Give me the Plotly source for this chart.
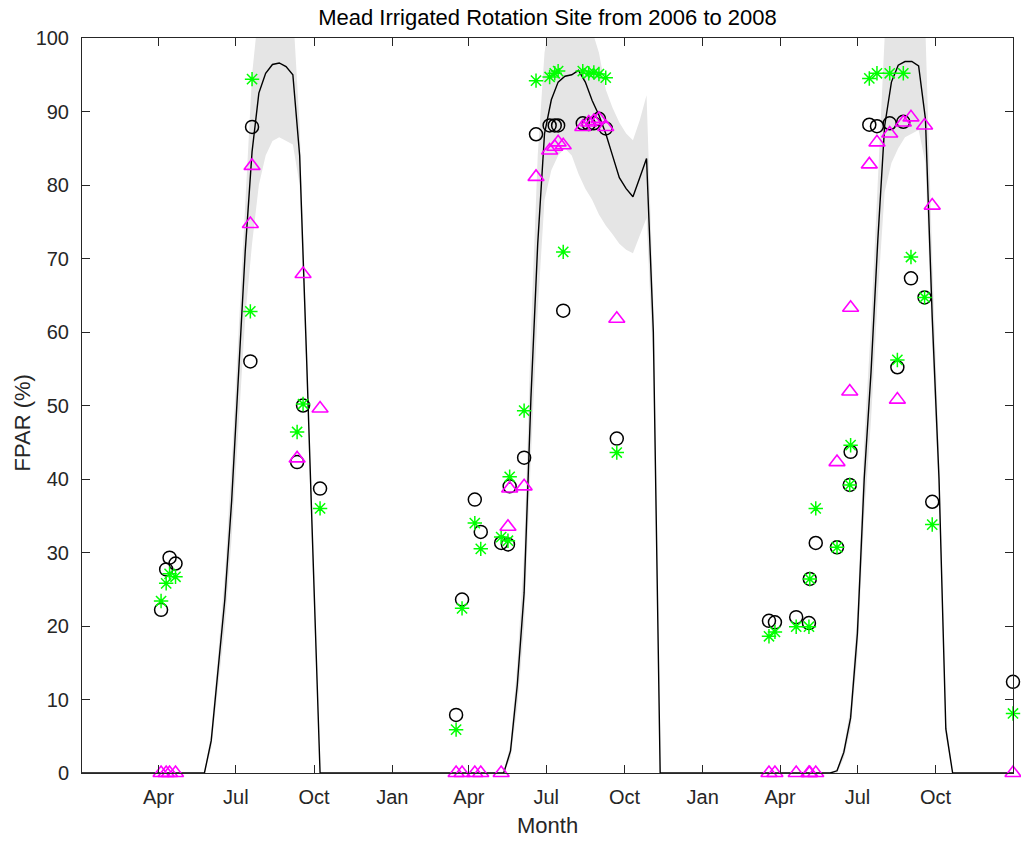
import plotly.graph_objects as go

# ---------------- data ----------------
# Modelled FPAR (8-day steps) for each growing season: mean line and band limits
dates_2006 = ["2006-05-25", "2006-06-02", "2006-06-10", "2006-06-18", "2006-06-26", "2006-07-04",
              "2006-07-12", "2006-07-20", "2006-07-28", "2006-08-05", "2006-08-13", "2006-08-21",
              "2006-08-29", "2006-09-06", "2006-09-14", "2006-09-22", "2006-09-30", "2006-10-08"]
line_2006 = [0, 4.4, 13.8, 23.6, 37, 54, 71, 84.5, 92.5, 95.2, 96.4, 96.6, 96.1, 95.0, 84, 57, 27, 0]
hi_2006 = [0, 5.5, 16, 27, 42, 60, 78, 95, 104, 107, 107, 107, 106, 104, 88, 60, 29, 0]
lo_2006 = [0, 3.3, 11.5, 20, 32, 47, 62, 72, 80, 84, 86, 86.5, 86, 85.5, 80, 54, 25, 0]

dates_2007 = ["2007-05-12", "2007-05-20", "2007-05-28", "2007-06-05", "2007-06-13", "2007-06-21",
              "2007-06-29", "2007-07-07", "2007-07-15", "2007-07-23", "2007-07-31", "2007-08-08",
              "2007-08-16", "2007-08-24", "2007-09-01", "2007-09-09", "2007-09-17", "2007-09-25",
              "2007-10-03", "2007-10-11", "2007-10-19", "2007-10-27", "2007-11-04", "2007-11-12"]
line_2007 = [0, 3, 12, 24.5, 51, 72, 87, 91.6, 94, 94.8, 95.0, 95.6, 94, 91.5, 89.5, 87, 84, 81,
             79.5, 78.4, 81, 83.6, 60, 0]
hi_2007 = [0, 4, 15, 30, 60, 84, 98, 104, 106, 106, 106, 106, 104, 101, 98, 93, 90.5, 88.5,
           87, 86.1, 88.8, 92.2, 64, 0]
lo_2007 = [0, 2, 9, 20, 43, 63, 78, 82, 84, 85, 84, 81.5, 79.5, 78, 76, 74.5, 73.3, 72,
           71.2, 70.7, 73, 75.5, 55, 0]

dates_2008 = ["2008-05-30", "2008-06-07", "2008-06-15", "2008-06-23", "2008-07-01", "2008-07-09",
              "2008-07-17", "2008-07-25", "2008-08-02", "2008-08-10", "2008-08-18", "2008-08-26",
              "2008-09-03", "2008-09-11", "2008-09-19", "2008-09-27", "2008-10-05", "2008-10-13",
              "2008-10-21"]
line_2008 = [0, 0.3, 2.8, 7.5, 19, 40, 54.5, 72.5, 88, 94, 96.3, 96.8, 96.8, 96.2, 89, 62, 40, 6, 0]
hi_2008 = [0, 0.5, 3.5, 9, 22, 45, 61, 80, 100, 104, 106, 106, 106, 104, 101, 70, 43, 7, 0]
lo_2008 = [0, 0, 2, 6, 16, 35, 48, 65, 79, 83, 85, 86.5, 87, 87.5, 83, 58, 37, 5, 0]

start_date = "2006-01-01"
end_date = "2008-12-31"

# Field observations
obs_dates = ["2006-04-04", "2006-04-10", "2006-04-14", "2006-04-21", "2006-07-18", "2006-07-20",
             "2006-09-11", "2006-09-18", "2006-10-08",
             "2007-03-17", "2007-03-24", "2007-04-08", "2007-04-15", "2007-05-09", "2007-05-17",
             "2007-05-19", "2007-06-05", "2007-06-19", "2007-07-05", "2007-07-11", "2007-07-15",
             "2007-07-21", "2007-08-13", "2007-08-20", "2007-08-26", "2007-09-01", "2007-09-09",
             "2007-09-22",
             "2008-03-19", "2008-03-26", "2008-04-20", "2008-05-05", "2008-05-06", "2008-05-13",
             "2008-06-07", "2008-06-22", "2008-06-23", "2008-07-15", "2008-07-24", "2008-08-08",
             "2008-08-17", "2008-08-24", "2008-09-02", "2008-09-18", "2008-09-27", "2008-12-31"]
obs_circle = [22.2, 27.7, 29.3, 28.5, 56.0, 87.9, 42.3, 50.0, 38.7,
              7.9, 23.6, 37.2, 32.8, 31.3, 31.1, 39.0, 42.9, 86.9, 88.1, 88.1, 88.1, 62.9,
              88.4, 88.3, 88.4, 89.0, 87.7, 45.5,
              20.7, 20.5, 21.2, 20.4, 26.4, 31.3, 30.7, 39.2, 43.7, 88.2, 88.0, 88.4, 55.2,
              88.6, 67.3, 64.7, 36.9, 12.4]
obs_star = [23.4, 25.8, 27.1, 26.7, 62.8, 94.4, 46.4, 50.2, 36.0,
            5.9, 22.4, 34.0, 30.5, 32.1, 31.6, 40.3, 49.3, 94.2, 94.7, 95.2, 95.5, 70.9,
            95.5, 95.2, 95.3, 95.1, 94.6, 43.6,
            18.6, 19.2, 19.9, 19.9, 26.4, 36.0, 30.7, 39.2, 44.6, 94.5, 95.2, 95.2, 56.2,
            95.2, 70.2, 64.7, 33.8, 8.1]
obs_triangle = [0, 0, 0, 0, 74.7, 82.6, 42.8, 67.9, 49.6,
                0, 0, 0, 0, 0, 33.5, 38.7, 39.0, 81.1, 84.7, 85.2, 85.8, 85.4,
                87.9, 88.5, 88.7, 89.0, 87.9, 61.8,
                0, 0, 0, 0, 0, 0, 42.3, 51.9, 63.3, 82.8, 85.8, 87.0, 50.8,
                88.5, 89.2, 88.1, 77.2, 0]

tick_dates = ["2006-04-01", "2006-07-01", "2006-10-01", "2007-01-01", "2007-04-01", "2007-07-01",
              "2007-10-01", "2008-01-01", "2008-04-01", "2008-07-01", "2008-10-01"]
tick_labels = ["Apr", "Jul", "Oct", "Jan", "Apr", "Jul", "Oct", "Jan", "Apr", "Jul", "Oct"]
y_ticks = [0, 10, 20, 30, 40, 50, 60, 70, 80, 90, 100]

# ---------------- figure ----------------
FONT = "Liberation Sans, Arial, Helvetica, sans-serif"
AX = "#262626"

fig = go.Figure()

for d, hi, lo in [(dates_2006, hi_2006, lo_2006),
                  (dates_2007, hi_2007, lo_2007),
                  (dates_2008, hi_2008, lo_2008)]:
    fig.add_trace(go.Scatter(
        x=d + d[::-1], y=hi + lo[::-1], mode="lines", fill="toself",
        fillcolor="#e5e5e5", line=dict(width=0, color="#e5e5e5"),
        hoverinfo="skip", showlegend=False))

fig.add_trace(go.Scatter(
    x=[start_date] + dates_2006 + dates_2007 + dates_2008 + [end_date],
    y=[0] + line_2006 + line_2007 + line_2008 + [0],
    mode="lines", line=dict(color="black", width=1.4), showlegend=False))

fig.add_trace(go.Scatter(
    x=obs_dates, y=obs_circle, mode="markers", cliponaxis=False, showlegend=False,
    marker=dict(symbol="circle-open", size=13, color="black",
                line=dict(color="black", width=1.5))))
fig.add_trace(go.Scatter(
    x=obs_dates, y=obs_star, mode="markers", cliponaxis=False, showlegend=False,
    marker=dict(symbol="asterisk-open", size=12, color="#00ff00",
                line=dict(color="#00ff00", width=1.5))))
fig.add_trace(go.Scatter(
    x=obs_dates, y=obs_triangle, mode="markers", cliponaxis=False, showlegend=False,
    marker=dict(symbol="triangle-up-open", size=14, color="#ff00ff",
                line=dict(color="#ff00ff", width=1.6))))

axis_common = dict(
    ticks="inside", ticklen=8, tickwidth=1, tickcolor=AX,
    showline=True, linecolor=AX, linewidth=1, mirror="ticks",
    showgrid=False, zeroline=False,
    tickfont=dict(family=FONT, size=20, color=AX),
)

fig.update_layout(
    width=1021, height=841,
    margin=dict(l=82, r=8, t=38, b=68),
    paper_bgcolor="white", plot_bgcolor="white",
    title=dict(text="Mead Irrigated Rotation Site from 2006 to 2008",
               x=0.5, xref="paper", xanchor="center",
               y=1 - 17 / 841, yref="container", yanchor="middle",
               font=dict(family=FONT, size=22, color="black")),
    xaxis=dict(type="date", range=[start_date, end_date],
               tickmode="array", tickvals=tick_dates, ticktext=tick_labels,
               ticklabelstandoff=6, **axis_common),
    yaxis=dict(range=[0, 100], tickmode="array", tickvals=y_ticks,
               ticklabelstandoff=8, **axis_common),
    annotations=[
        dict(text="Month", x=0.5, y=0, xref="paper", yref="paper",
             xanchor="center", yanchor="middle", yshift=-52, showarrow=False,
             font=dict(family=FONT, size=22, color=AX)),
        dict(text="FPAR (%)", x=0, y=0.5, xref="paper", yref="paper",
             xanchor="center", yanchor="middle", xshift=-60, yshift=-18, textangle=-90,
             showarrow=False, font=dict(family=FONT, size=22, color=AX)),
    ],
)

fig.write_html("out.html")
